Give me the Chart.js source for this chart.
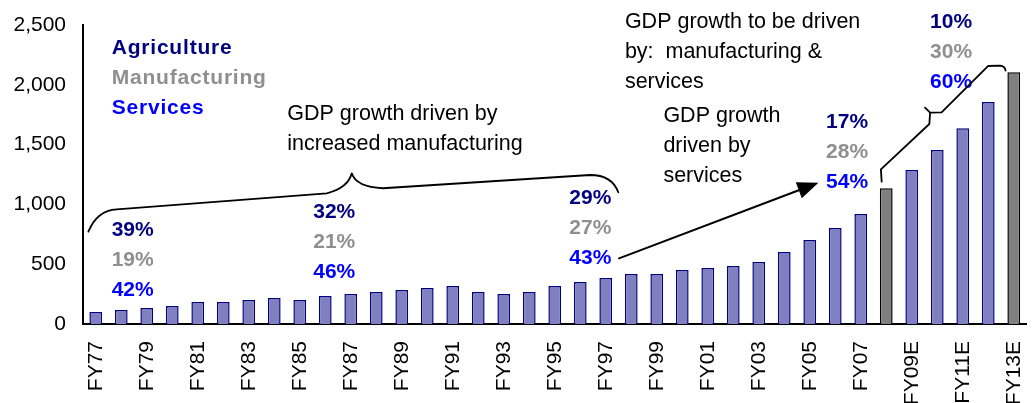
<!DOCTYPE html>
<html>
<head>
<meta charset="utf-8">
<script src="https://cdn.jsdelivr.net/npm/chart.js@4.4.1/dist/chart.umd.min.js"></script>
<style>
  html, body { margin: 0; background: #fff; }
  canvas { display: block; }
</style>
</head>
<body>
<canvas id="gdp" width="1034" height="403"></canvas>
<script>
const years = [
  'FY77', 'FY78', 'FY79', 'FY80', 'FY81', 'FY82', 'FY83', 'FY84', 'FY85', 'FY86',
  'FY87', 'FY88', 'FY89', 'FY90', 'FY91', 'FY92', 'FY93', 'FY94', 'FY95', 'FY96',
  'FY97', 'FY98', 'FY99', 'FY00', 'FY01', 'FY02', 'FY03', 'FY04', 'FY05', 'FY06',
  'FY07', 'FY08E', 'FY09E', 'FY10E', 'FY11E', 'FY12E', 'FY13E'
];
const gdp = [
  100, 117, 134, 150, 184, 184, 200, 217, 200, 234,
  251, 268, 284, 301, 318, 268, 251, 268, 318, 351,
  385, 418, 418, 452, 468, 485, 518, 602, 702, 803,
  920, 1135, 1288, 1455, 1636, 1856, 2104
];
const shadedYears = ['FY08E', 'FY13E'];
const yTicks = [0, 500, 1000, 1500, 2000, 2500];

// sector shares of GDP growth for each period
const sectors = ['Agriculture', 'Manufacturing', 'Services'];
const shareAgri = ['39%', '32%', '29%', '17%', '10%'];
const shareMfg = ['19%', '21%', '27%', '28%', '30%'];
const shareSvc = ['42%', '46%', '43%', '54%', '60%'];

const notes = [
  ['GDP growth driven by', 'increased manufacturing'],
  ['GDP growth to be driven', 'by:  manufacturing &', 'services'],
  ['GDP growth', 'driven by', 'services']
];

const FONT = "'Liberation Sans', Arial, sans-serif";
const NAVY = '#000080';
const GREY = '#8f8f8f';
const BLUE = '#0000ff';
const sectorColors = [NAVY, GREY, BLUE];

// text blocks anchored in data units: [category index, value of first baseline]
const LINE_STEP = 251;
const legendSpot = [0.625, 2258];
const shareSpots = [[0.625, 738], [8.53, 884], [18.57, 1003], [28.64, 1636], [32.72, 2472]];
const noteSpots = [[7.51, 1706], [20.75, 2472], [22.26, 1691]];

const annotations = {
  id: 'annotations',
  afterDatasetsDraw(chart) {
    const { ctx, scales: { x, y } } = chart;
    const X = i => x.getPixelForValue(i);
    const Y = v => y.getPixelForValue(v);

    ctx.save();
    ctx.textAlign = 'left';
    ctx.textBaseline = 'alphabetic';

    // sector legend
    ctx.font = `bold 21px ${FONT}`;
    ctx.letterSpacing = '0.8px';
    sectors.forEach((s, k) => {
      ctx.fillStyle = sectorColors[k];
      ctx.fillText(s, X(legendSpot[0]), Y(legendSpot[1] - k * LINE_STEP));
    });
    ctx.letterSpacing = '0px';

    // share triplets
    ctx.font = `bold 21px ${FONT}`;
    shareSpots.forEach(([i, v], n) => {
      [shareAgri[n], shareMfg[n], shareSvc[n]].forEach((t, k) => {
        ctx.fillStyle = sectorColors[k];
        ctx.fillText(t, X(i), Y(v - k * LINE_STEP));
      });
    });

    // notes
    ctx.font = `21.5px ${FONT}`;
    ctx.fillStyle = '#000';
    noteSpots.forEach(([i, v], n) => {
      notes[n].forEach((t, k) => ctx.fillText(t, X(i), Y(v - k * LINE_STEP)));
    });

    ctx.strokeStyle = '#000';
    ctx.lineWidth = 1.8;
    ctx.lineJoin = 'round';
    ctx.lineCap = 'round';

    // long brace over FY77-FY97
    ctx.beginPath();
    ctx.moveTo(X(-0.29), Y(772));
    ctx.quadraticCurveTo(X(0.05), Y(950), X(0.82), Y(959));
    ctx.lineTo(X(9.06), Y(1093));
    ctx.quadraticCurveTo(X(9.89), Y(1137), X(10.04), Y(1260));
    ctx.quadraticCurveTo(X(10.21), Y(1145), X(11.26), Y(1135));
    ctx.lineTo(X(19.38), Y(1246));
    ctx.quadraticCurveTo(X(20.25), Y(1246), X(20.49), Y(1101));
    ctx.stroke();

    // brace over the estimate years
    ctx.beginPath();
    ctx.moveTo(X(30.82), Y(1190));
    ctx.lineTo(X(30.79), Y(1293));
    ctx.lineTo(X(32.69), Y(1672));
    ctx.lineTo(X(32.72), Y(1767));
    ctx.lineTo(X(32.52), Y(1809));
    ctx.moveTo(X(32.72), Y(1767));
    ctx.lineTo(X(33.17), Y(1770));
    ctx.lineTo(X(34.99), Y(2157));
    ctx.lineTo(X(35.46), Y(2160));
    ctx.quadraticCurveTo(X(35.66), Y(2157), X(35.68), Y(2118));
    ctx.stroke();

    // arrow towards the services-led period
    const x0 = X(20.52), y0 = Y(549), x1 = X(28.34), y1 = Y(1181);
    const ang = Math.atan2(y1 - y0, x1 - x0);
    const head = 21, half = 8.5;
    const bx = x1 - head * Math.cos(ang), by = y1 - head * Math.sin(ang);
    ctx.lineWidth = 2;
    ctx.beginPath();
    ctx.moveTo(x0, y0);
    ctx.lineTo(bx, by);
    ctx.stroke();
    ctx.fillStyle = '#000';
    ctx.beginPath();
    ctx.moveTo(x1, y1);
    ctx.lineTo(bx + half * Math.sin(ang), by - half * Math.cos(ang));
    ctx.lineTo(bx - half * Math.sin(ang), by + half * Math.cos(ang));
    ctx.closePath();
    ctx.fill();
    ctx.restore();
  }
};

new Chart(document.getElementById('gdp'), {
  type: 'bar',
  data: {
    labels: years,
    datasets: [{
      data: gdp,
      backgroundColor: years.map(l => shadedYears.includes(l) ? '#808080' : '#8080c0'),
      borderColor: years.map(l => shadedYears.includes(l) ? '#000000' : '#000080'),
      borderWidth: 1.5,
      barPercentage: 0.5,
      categoryPercentage: 1
    }]
  },
  options: {
    responsive: false,
    animation: false,
    devicePixelRatio: 1,
    layout: { padding: { top: 25, right: 7.5, left: 0, bottom: 0 } },
    plugins: { legend: { display: false }, tooltip: { enabled: false } },
    scales: {
      x: {
        grid: { display: false, drawTicks: false },
        border: { display: true, color: '#000', width: 2 },
        ticks: {
          autoSkip: false,
          maxRotation: 90,
          minRotation: 90,
          padding: 17,
          color: '#000',
          font: { family: FONT, size: 21 },
          callback: (v, i) => (i % 2 === 0 ? years[i] : '')
        },
        afterFit: s => {
          s.height = 79;
          s.paddingLeft = 0;
          s.paddingRight = 0;
        }
      },
      y: {
        min: 0,
        max: 2500,
        grid: { display: false, drawTicks: false },
        border: { display: true, color: '#000', width: 2 },
        afterBuildTicks: s => { s.ticks = yTicks.map(value => ({ value })); },
        ticks: {
          padding: 17,
          color: '#000',
          font: { family: FONT, size: 21 },
          callback: v => v.toLocaleString('en-US')
        },
        afterFit: s => {
          s.width = 83;
          s.paddingTop = 0;
          s.paddingBottom = 0;
        }
      }
    }
  },
  plugins: [annotations]
});
</script>
</body>
</html>
